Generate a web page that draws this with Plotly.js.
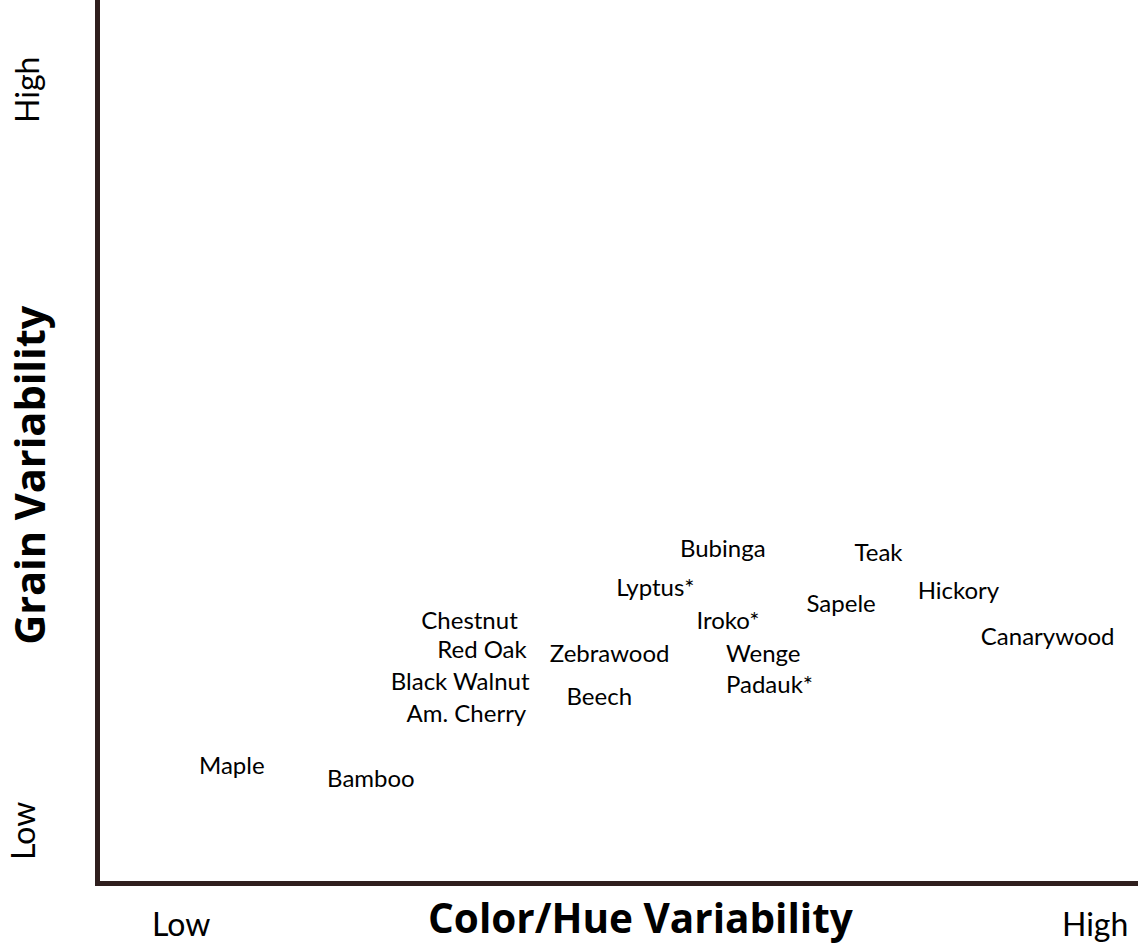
<!DOCTYPE html>
<html><head><meta charset="utf-8">
<script src="https://cdn.plot.ly/plotly-3.0.1.min.js"></script>
<style>html,body{margin:0;padding:0;background:#fff}#chart{width:1138px;height:947px}</style>
</head><body><div id="chart"></div>
<script>
const woods = ["Bubinga","Teak","Lyptus*","Hickory","Sapele","Iroko*","Chestnut","Canarywood","Red Oak","Zebrawood","Wenge","Black Walnut","Padauk*","Beech","Am. Cherry","Maple","Bamboo"];
const colorVariability = [60.0,75.0,53.5,82.7,71.4,60.5,35.6,91.3,36.8,49.1,63.9,34.7,64.5,48.1,35.3,12.7,26.1];
const grainVariability = [37.5,37.0,33.0,32.7,31.2,29.3,29.3,27.5,26.0,25.5,25.5,22.4,22.0,20.7,18.7,12.8,11.4];
const xTitle = "Color/Hue Variability";
const yTitle = "Grain Variability";
const lowLabel = "Low", highLabel = "High";

const FONT = "Lato, 'Open Sans', sans-serif";
const TFONT = "'Open Sans', Lato, sans-serif";
const AXC = "#2f1f1e";

const trace = {
  x: colorVariability, y: grainVariability, text: woods,
  mode: "text", type: "scatter", textposition: "middle center",
  textfont: {family: FONT, size: 24, color: "#000"}, hoverinfo: "none", cliponaxis: false
};

const layout = {
  width: 1138, height: 947,
  margin: {l: 100, r: 0, t: 0, b: 66, pad: 0},
  paper_bgcolor: "#fff", plot_bgcolor: "#fff",
  showlegend: false,
  xaxis: {range: [0, 100], showgrid: false, zeroline: false, showticklabels: false, ticks: "",
          showline: true, linewidth: 5, linecolor: AXC, fixedrange: true},
  yaxis: {range: [0, 100], showgrid: false, zeroline: false, showticklabels: false, ticks: "",
          showline: true, linewidth: 5, linecolor: AXC, fixedrange: true},
  annotations: [
    {text: "<b>" + xTitle + "</b>", xref: "paper", yref: "paper", x: 0.521, y: -0.041, showarrow: false,
     xanchor: "center", yanchor: "middle", font: {family: TFONT, size: 40.5, color: "#000"}},
    {text: "<b>" + yTitle + "</b>", xref: "paper", yref: "paper", x: -0.0684, y: 0.461, showarrow: false, textangle: -90,
     xanchor: "center", yanchor: "middle", font: {family: TFONT, size: 41.5, color: "#000"}},
    {text: lowLabel, xref: "paper", yref: "paper", x: 0.078, y: -0.0477, showarrow: false,
     xanchor: "center", yanchor: "middle", font: {family: FONT, size: 32, color: "#000"}},
    {text: highLabel, xref: "paper", yref: "paper", x: 0.959, y: -0.0477, showarrow: false,
     xanchor: "center", yanchor: "middle", font: {family: FONT, size: 32, color: "#000"}},
    {text: lowLabel, xref: "paper", yref: "paper", x: -0.0742, y: 0.0568, showarrow: false, textangle: -90,
     xanchor: "center", yanchor: "middle", font: {family: FONT, size: 32, color: "#000"}},
    {text: highLabel, xref: "paper", yref: "paper", x: -0.0703, y: 0.898, showarrow: false, textangle: -90,
     xanchor: "center", yanchor: "middle", font: {family: FONT, size: 32, color: "#000"}}
  ]
};

Plotly.newPlot("chart", [trace], layout, {staticPlot: true, displayModeBar: false});
</script></body></html>
